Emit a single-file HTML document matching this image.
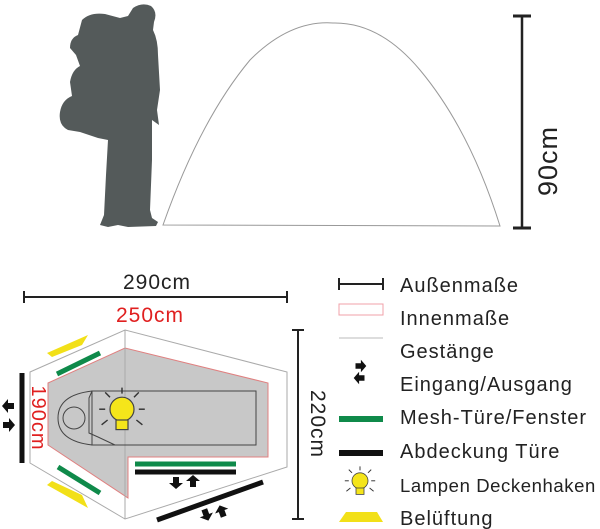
<!DOCTYPE html>
<html><head><meta charset="utf-8"><style>
html,body{margin:0;padding:0;background:#fff;}
svg{display:block;font-family:"Liberation Sans",sans-serif;}
</style></head><body>
<svg width="600" height="529" viewBox="0 0 600 529" xmlns="http://www.w3.org/2000/svg">
<defs>
<g id="bulb">
 <circle cx="0" cy="-4" r="10" fill="#f5e51a" stroke="#444" stroke-width="1"/>
 <rect x="-5" y="5" width="10" height="8" fill="#f5e51a" stroke="#444" stroke-width="1"/>
 <g stroke="#333" stroke-width="1.2">
  <line x1="-14" y1="-4" x2="-19" y2="-4"/><line x1="14" y1="-4" x2="19" y2="-4"/>
  <line x1="0" y1="-17" x2="0" y2="-22"/><line x1="-10" y1="-14" x2="-14" y2="-18"/>
  <line x1="10" y1="-14" x2="14" y2="-18"/><line x1="-12" y1="5" x2="-17" y2="9"/>
  <line x1="12" y1="5" x2="17" y2="9"/>
 </g>
</g>
<path id="arr" d="M-5,-3 L1,-3 L1,-7 L7,0 L1,7 L1,3 L-5,3 Z" fill="#111"/>
</defs>

<g fill="#545a5a">
<path d="M133,8 Q142,2 151,6 Q158,12 154,22 L153,30 Q158,40 158,55 L160,90 L157,110 L159,125 L152,120 L152,160 L150,210 L152,218 L158,222 L156,226 L128,227 L118,225 L108,227 L100,225 L104,215 L106,175 L108,140 L98,138 L80,132 L68,130 Q58,125 60,112 Q62,100 72,96 L70,82 Q72,70 80,66 L76,55 L70,48 Q70,38 78,35 L82,20 Q90,12 105,14 L120,18 L128,16 Z"/>
</g>

<path d="M163,225 Q200,120 250,60 Q290,20 333,23 Q380,22 420,70 Q470,130 500,226 Z" fill="none" stroke="#999" stroke-width="1"/>
<g stroke="#222" stroke-width="2.5"><line x1="522" y1="16" x2="522" y2="228"/></g>
<g stroke="#222" stroke-width="3"><line x1="513" y1="16" x2="531" y2="16"/><line x1="513" y1="228" x2="531" y2="228"/></g>
<text x="0" y="0" font-size="27" letter-spacing="1" fill="#222" text-anchor="middle" transform="translate(557,161) rotate(-90)">90cm</text>

<polygon points="125,330 287,372 287,467 125,519 30,463 30,372" fill="#fff" stroke="#aaa" stroke-width="1"/>
<polygon points="48,383 125,348 268,383 268,457 128,457 128,498 48,445" fill="#c8c8c8" stroke="#e08080" stroke-width="1"/>
<line x1="125" y1="330" x2="125" y2="519" stroke="#aaa" stroke-width="1"/>
<rect x="92" y="391" width="164" height="54" fill="none" stroke="#444" stroke-width="1"/>
<path d="M92,391 Q58,395 58,418 Q58,441 92,445 L115,445" fill="none" stroke="#444" stroke-width="1"/>
<path d="M92,391 L89,398 L89,433 L98,437 L115,445" fill="none" stroke="#444" stroke-width="1"/>
<circle cx="74" cy="418" r="11" fill="none" stroke="#444" stroke-width="1"/>
<use href="#bulb" transform="translate(122,414) scale(1.2)"/>

<g stroke="#0f8a4a" stroke-width="5">
<line x1="57" y1="374" x2="100" y2="353"/><line x1="58" y1="467" x2="100" y2="493"/><line x1="135" y1="464" x2="236" y2="464"/>
</g>
<g stroke="#111" stroke-width="5">
<line x1="135" y1="472" x2="236" y2="472"/><line x1="157" y1="520" x2="263" y2="482"/><line x1="22" y1="373" x2="22" y2="463"/>
</g>
<polygon points="47,353 88,335 82,345 52,357" fill="#f2e018"/>
<polygon points="47,485 52,481 82,495 88,508" fill="#f2e018"/>

<use href="#arr" transform="translate(9,406) rotate(180)"/>
<use href="#arr" transform="translate(8,425)"/>
<use href="#arr" transform="translate(176,482) rotate(90)"/>
<use href="#arr" transform="translate(193,482) rotate(-90)"/>
<use href="#arr" transform="translate(206,514) rotate(70)"/>
<use href="#arr" transform="translate(222,512) rotate(-110)"/>

<line x1="24" y1="297" x2="287" y2="297" stroke="#222" stroke-width="2"/>
<line x1="24" y1="291" x2="24" y2="303" stroke="#222" stroke-width="2"/>
<line x1="287" y1="291" x2="287" y2="303" stroke="#222" stroke-width="2"/>
<text x="157" y="289" font-size="21" letter-spacing="1" fill="#222" text-anchor="middle">290cm</text>
<text x="150" y="322" font-size="21" letter-spacing="1" fill="#e02020" text-anchor="middle">250cm</text>
<line x1="298" y1="330" x2="298" y2="519" stroke="#222" stroke-width="2"/>
<line x1="292" y1="330" x2="304" y2="330" stroke="#222" stroke-width="2"/>
<line x1="292" y1="519" x2="304" y2="519" stroke="#222" stroke-width="2"/>
<text font-size="21" letter-spacing="1" fill="#222" text-anchor="middle" transform="translate(311,424) rotate(90)">220cm</text>
<text font-size="20" letter-spacing="1" fill="#e02020" text-anchor="middle" transform="translate(32,418) rotate(90)">190cm</text>

<g stroke="#222"><line x1="339" y1="284" x2="383" y2="284" stroke-width="2"/><line x1="339" y1="278" x2="339" y2="290" stroke-width="2"/><line x1="383" y1="278" x2="383" y2="290" stroke-width="2"/></g>
<rect x="339" y="304" width="44" height="11" fill="none" stroke="#f0a0a8" stroke-width="1"/>
<line x1="339" y1="338" x2="383" y2="338" stroke="#bbb" stroke-width="1"/>
<use href="#arr" transform="translate(360,366) scale(0.9)"/>
<use href="#arr" transform="translate(360,378) rotate(180) scale(0.9)"/>
<rect x="339" y="416" width="44" height="6" fill="#0f8a4a"/>
<rect x="339" y="450" width="44" height="6" fill="#111"/>
<use href="#bulb" transform="translate(360,484) scale(0.8)"/>
<polygon points="339,522 383,522 377,512 346,512" fill="#f2e018"/>
<g font-size="20" letter-spacing="1" fill="#222">
<text x="400" y="292">Außenmaße</text>
<text x="400" y="325">Innenmaße</text>
<text x="400" y="358">Gestänge</text>
<text x="400" y="391">Eingang/Ausgang</text>
<text x="400" y="424">Mesh-Türe/Fenster</text>
<text x="400" y="458">Abdeckung Türe</text>
<text x="400" y="492" font-size="18.5" letter-spacing="0.6">Lampen Deckenhaken</text>
<text x="400" y="525">Belüftung</text>
</g>
</svg>
</body></html>
